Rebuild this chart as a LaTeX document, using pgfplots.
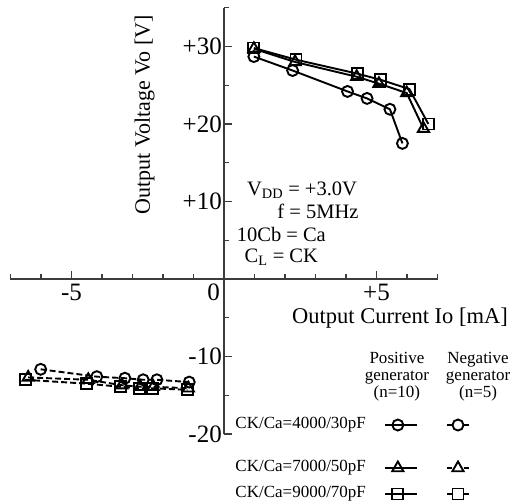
\documentclass[border=0pt]{standalone}
\usepackage{fontspec}
\setmainfont{Liberation Serif}
\usepackage{pgfplots}
\pgfplotsset{compat=1.18}
\definecolor{axisgray}{RGB}{60,60,60}

\pgfplotsset{
  pos/.style={black, line width=1.9pt, mark options={solid, fill=white, line width=1.9pt}},
  neg/.style={black, line width=1.9pt, dash pattern=on 6pt off 3pt, mark options={solid, fill=white, line width=1.9pt}},
}

\begin{document}
\begin{tikzpicture}
\begin{axis}[
  x=30.5pt, y=7.75pt,
  axis lines=middle,
  axis line style={-, line width=1.3pt, axisgray},
  xmin=-7, xmax=7, ymin=-20, ymax=35,
  xtick={-5,5}, xticklabels={-5,+5},
  minor xtick={-7,-6,...,7},
  ytick={-20,-10,10,20,30}, yticklabels={-20,-10,+10,+20,+30},
  minor ytick={-15,-5,5,15,25,35},
  tick align=inside,
  major tick length=8pt, minor tick length=5pt,
  tick style={axisgray, line width=1.3pt},
  ticklabel style={font=\fontsize{25}{25}\selectfont, inner sep=1pt},
  xticklabel style={anchor=north, yshift=-4pt},
  yticklabel style={anchor=east, xshift=-1pt},
  clip=false,
]
% positive generator (n=10)
\addplot[pos, mark=o, mark size=5.5pt] coordinates {
  (0.98,28.7)(2.25,26.9)(4.05,24.2)(4.69,23.3)(5.44,21.9)(5.85,17.5)};
\addplot[pos, mark=triangle, mark size=6.5pt] coordinates {
  (0.98,29.7)(2.33,28.0)(4.35,26.1)(5.08,25.2)(5.99,24.0)(6.54,19.4)};
\addplot[pos, mark=square, mark size=5.5pt] coordinates {
  (0.98,29.8)(2.36,28.3)(4.37,26.5)(5.14,25.7)(6.08,24.5)(6.70,20.0)};
% negative generator (n=5)
\addplot[neg, mark=o, mark size=5.5pt] coordinates {
  (-6.01,-11.65)(-4.17,-12.6)(-3.25,-12.8)(-2.65,-13.0)(-2.2,-13.0)(-1.14,-13.3)};
\addplot[neg, mark=triangle, mark size=6.5pt] coordinates {
  (-6.42,-12.7)(-4.45,-13.0)(-3.35,-13.7)(-2.75,-13.9)(-2.32,-13.9)(-1.17,-14.1)};
\addplot[neg, mark=square, mark size=5.5pt] coordinates {
  (-6.52,-13.0)(-4.52,-13.5)(-3.39,-13.9)(-2.78,-14.1)(-2.35,-14.1)(-1.2,-14.3)};

% legend samples
\addplot[pos, mark=o, mark size=5.5pt, mark indices={2}] coordinates {(5.28,-18.84)(5.70,-18.84)(6.33,-18.84)};
\addplot[pos, mark=triangle, mark size=6.5pt, mark indices={2}] coordinates {(5.28,-24.39)(5.70,-24.39)(6.33,-24.39)};
\addplot[pos, mark=square, mark size=5.5pt, mark indices={2}] coordinates {(5.28,-27.74)(5.70,-27.74)(6.33,-27.74)};
\addplot[neg, dash pattern=on 5pt off 12pt, mark=o, mark size=5.5pt, mark indices={2}] coordinates {(7.311,-18.84)(7.672,-18.84)(8.033,-18.84)};
\addplot[neg, dash pattern=on 5pt off 12pt, mark=triangle, mark size=6.5pt, mark indices={2}] coordinates {(7.311,-24.39)(7.672,-24.39)(8.033,-24.39)};
\addplot[neg, dash pattern=on 5pt off 12pt, mark=square, mark size=5.5pt, mark indices={2}] coordinates {(7.311,-27.74)(7.672,-27.74)(8.033,-27.74)};

\node[anchor=north east, inner sep=0pt, xshift=-4pt, yshift=-5pt, font=\fontsize{25}{25}\selectfont] at (axis cs:0,0) {0};
\node[rotate=90, font=\fontsize{22}{22}\selectfont] at (axis cs:-2.6,21.2) {Output Voltage Vo [V]};
\node[anchor=east, inner sep=0pt, font=\fontsize{22.5}{22.5}\selectfont] at (axis cs:9.31,-5.1) {Output Current Io [mA]};

\begin{scope}[every node/.style={font=\fontsize{20.5}{20.5}\selectfont, inner sep=0pt}]
\node at (axis cs:2.56,11.5) {V\textsubscript{DD} = +3.0V};
\node at (axis cs:3.08,8.7) {f = 5MHz};
\node at (axis cs:1.88,5.8) {10Cb = Ca};
\node at (axis cs:1.88,2.8) {C\textsubscript{L} = CK};
\end{scope}

\begin{scope}[every node/.style={font=\fontsize{17}{17}\selectfont, inner sep=0pt}]
\node[align=center, anchor=north] at (axis cs:5.67,-9.42) {Positive\\generator\\(n=10)};
\node[align=center, anchor=north] at (axis cs:8.33,-9.42) {Negative\\generator\\(n=5)};
\node[anchor=east] at (axis cs:4.66,-18.84) {CK/Ca=4000/30pF};
\node[anchor=east] at (axis cs:4.66,-24.39) {CK/Ca=7000/50pF};
\node[anchor=east] at (axis cs:4.66,-27.74) {CK/Ca=9000/70pF};
\end{scope}

\coordinate (bl) at (axis cs:-7.344,-28.90);
\coordinate (tr) at (axis cs:9.377,36.0);
\end{axis}
\pgfresetboundingbox
\useasboundingbox (bl) rectangle (tr);
\end{tikzpicture}
\end{document}
